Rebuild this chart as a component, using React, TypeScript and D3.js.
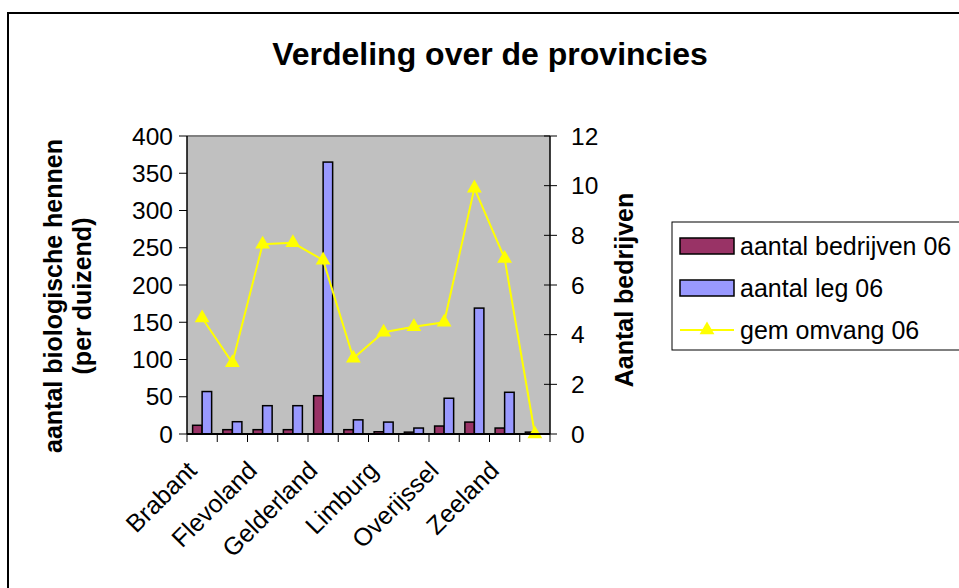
import React from "react";
import * as d3 from "d3";

const provinces = [
  "Brabant", "Drenthe", "Flevoland", "Friesland", "Gelderland", "Groningen",
  "Limburg", "Noord-Holland", "Overijssel", "Utrecht", "Zeeland", "Zuid-Holland",
];
const bedrijven06 = [11.7, 5.8, 5.8, 5.8, 51.4, 5.8, 3, 2.5, 10.7, 16, 8, 2.5];
const leg06 = [57, 16.5, 38, 38, 365, 19, 16, 8, 48, 169, 56, 0];
const omvang06 = [4.67, 2.87, 7.64, 7.7, 7.0, 3.05, 4.1, 4.32, 4.5, 9.9, 7.07, 0];
const leftTicks = [0, 50, 100, 150, 200, 250, 300, 350, 400];
const rightTicks = [0, 2, 4, 6, 8, 10, 12];

const series = ["bedrijven", "leg"];
const barColors: Record<string, string> = { bedrijven: "#993366", leg: "#9999FF" };
const legendItems = ["aantal bedrijven 06", "aantal leg 06", "gem omvang 06"];

const FONT = "Arial, 'Liberation Sans', sans-serif";

// plot frame
const left = 187;
const right = 550;
const top = 136;
const bottom = 434;

const App: React.FC = () => {
  const x0 = d3.scaleBand<string>().domain(provinces).range([left, right]).paddingInner(0);
  const x1 = d3.scaleBand<string>().domain(series).range([0, x0.bandwidth()]).paddingOuter(0.59);
  const yL = d3.scaleLinear().domain([0, 400]).range([bottom, top]);
  const yR = d3.scaleLinear().domain([0, 12]).range([bottom, top]);
  const cx = (p: string) => (x0(p) ?? 0) + x0.bandwidth() / 2;

  const line = d3
    .line<number>()
    .x((_, i) => cx(provinces[i]))
    .y((d) => yR(d));
  const tri = d3.symbol().type(d3.symbolTriangle).size(95)() as string;

  const values: Record<string, number[]> = { bedrijven: bedrijven06, leg: leg06 };

  return (
    <svg
      width={959}
      height={588}
      style={{ position: "absolute", left: 0, top: 0, background: "#fff" }}
      fontFamily={FONT}
    >
      <rect x={8} y={13} width={1000} height={700} fill="#fff" stroke="#000" strokeWidth={2} />

      <text x={490} y={65} textAnchor="middle" fontSize={32} fontWeight="bold">
        Verdeling over de provincies
      </text>

      {/* plot area */}
      <rect x={left} y={top} width={right - left} height={bottom - top} fill="#C0C0C0" />
      <line x1={left} x2={right} y1={top} y2={top} stroke="#808080" strokeWidth={2} />

      {/* bars */}
      {provinces.map((p, i) =>
        series.map((s) => {
          const v = values[s][i];
          const y = yL(v);
          return (
            <rect
              key={p + s}
              x={(x0(p) ?? 0) + (x1(s) ?? 0)}
              y={y}
              width={x1.bandwidth()}
              height={bottom - y}
              fill={barColors[s]}
              stroke="#000"
              strokeWidth={1.5}
            />
          );
        })
      )}

      {/* line */}
      <path d={line(omvang06) ?? ""} fill="none" stroke="#FFFF00" strokeWidth={2} />
      {omvang06.map((v, i) => (
        <path key={i} d={tri} transform={`translate(${cx(provinces[i])},${yR(v)})`} fill="#FFFF00" />
      ))}

      {/* left axis */}
      <line x1={left} x2={left} y1={top} y2={bottom} stroke="#000" strokeWidth={1.5} />
      {leftTicks.map((t) => (
        <g key={t} transform={`translate(0,${yL(t)})`}>
          <line x1={left - 8} x2={left} stroke="#000" />
          <text x={left - 14} dy="0.35em" textAnchor="end" fontSize={24.5}>
            {t}
          </text>
        </g>
      ))}

      {/* right axis */}
      <line x1={right} x2={right} y1={top} y2={bottom} stroke="#000" strokeWidth={1.5} />
      {rightTicks.map((t) => (
        <g key={t} transform={`translate(0,${yR(t)})`}>
          <line x1={right - 6} x2={right + 7} stroke="#000" />
          <text x={right + 21} dy="0.35em" textAnchor="start" fontSize={24.5}>
            {t}
          </text>
        </g>
      ))}

      {/* category axis */}
      <line x1={left} x2={right} y1={bottom} y2={bottom} stroke="#000" strokeWidth={2} />
      {[...provinces.map((p) => x0(p) ?? 0), right].map((xv, i) => (
        <line key={i} x1={xv} x2={xv} y1={bottom} y2={bottom + 8} stroke="#000" />
      ))}
      {provinces.map((p, i) =>
        i % 2 === 0 ? (
          <text
            key={p}
            transform={`translate(${cx(p) - 4},${bottom + 38}) rotate(-45)`}
            textAnchor="end"
            fontSize={25}
          >
            {p}
          </text>
        ) : null
      )}

      {/* axis titles */}
      <text transform="translate(62,296) rotate(-90)" textAnchor="middle" fontSize={25} fontWeight="bold">
        aantal biologische hennen
      </text>
      <text transform="translate(91,296) rotate(-90)" textAnchor="middle" fontSize={25} fontWeight="bold">
        (per duizend)
      </text>
      <text transform="translate(633,290) rotate(-90)" textAnchor="middle" fontSize={25} fontWeight="bold">
        Aantal bedrijven
      </text>

      {/* legend */}
      <rect x={672} y={222} width={400} height={128} fill="#fff" stroke="#000" strokeWidth={1} />
      {legendItems.map((label, i) => {
        const rowY = 246 + i * 42;
        return (
          <g key={label}>
            {i < 2 ? (
              <rect x={680} y={rowY - 8} width={54} height={16} fill={barColors[series[i]]} stroke="#000" strokeWidth={1.5} />
            ) : (
              <g>
                <line x1={680} x2={734} y1={rowY} y2={rowY} stroke="#FFFF00" strokeWidth={2} />
                <path d={tri} transform={`translate(707,${rowY})`} fill="#FFFF00" />
              </g>
            )}
            <text x={740} y={rowY} dy="0.35em" fontSize={25}>
              {label}
            </text>
          </g>
        );
      })}
    </svg>
  );
};

export default App;
